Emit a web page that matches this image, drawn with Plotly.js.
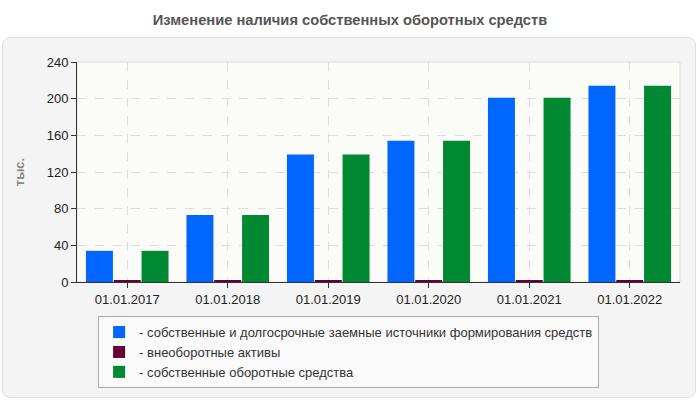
<!DOCTYPE html>
<html>
<head>
<meta charset="utf-8">
<script src="https://cdn.plot.ly/plotly-3.0.1.min.js"></script>
<style>
    html, body { margin: 0; padding: 0; background: #ffffff; }
    #wrap { position: relative; width: 700px; height: 400px; }
    #panel {
        position: absolute; left: 2px; top: 37px; width: 692px; height: 359px;
        background: #f4f4f4; border: 1px solid #e0e0e0; border-radius: 8px;
    }
    #chart { position: absolute; left: 0; top: 0; width: 700px; height: 400px; }
</style>
</head>
<body>
<div id="wrap">
    <div id="panel"></div>
    <div id="chart"></div>
</div>
<script>
// Данные графика
const dates = ['01.01.2017', '01.01.2018', '01.01.2019', '01.01.2020', '01.01.2021', '01.01.2022'];
const sourcesValues = [34, 73, 139, 154, 201, 214];
const nonCurrentValues = [1.2, 1.2, 1.2, 1.2, 1.2, 1.2];
const workingCapitalValues = [34, 73, 139, 154, 201, 214];
const yTicks = [0, 40, 80, 120, 160, 200, 240];

const seriesNames = [
    '- собственные и долгосрочные заемные источники формирования средств',
    '- внеоборотные активы',
    '- собственные оборотные средства'
];

document.addEventListener('DOMContentLoaded', function() {
    const data = [
        {
            type: 'bar',
            x: dates,
            y: sourcesValues,
            name: seriesNames[0],
            marker: { color: '#0066ff' },
            hoverinfo: 'y'
        },
        {
            type: 'bar',
            x: dates,
            y: nonCurrentValues,
            name: seriesNames[1],
            marker: { color: '#660033' },
            hoverinfo: 'y'
        },
        {
            type: 'bar',
            x: dates,
            y: workingCapitalValues,
            name: seriesNames[2],
            marker: { color: '#008833' },
            hoverinfo: 'y'
        }
    ];

    const layout = {
        width: 700,
        height: 400,
        paper_bgcolor: 'rgba(0,0,0,0)',
        plot_bgcolor: '#fbfbf8',
        font: { family: 'Liberation Sans, Arial, sans-serif', size: 13, color: '#222' },
        margin: { l: 77, r: 20, t: 62, b: 118 },
        title: {
            text: '<b>Изменение наличия собственных оборотных средств</b>',
            font: { size: 14.7, color: '#555' },
            x: 0.5,
            xref: 'container',
            xanchor: 'center',
            yref: 'container',
            y: 0.95,
            yanchor: 'middle'
        },
        barmode: 'group',
        bargap: 0.17,
        bargroupgap: 0.03,
        xaxis: {
            type: 'category',
            showgrid: true,
            gridcolor: '#dddddd',
            griddash: 'dash',
            showline: true,
            linecolor: '#333',
            linewidth: 1,
            ticks: 'outside',
            ticklen: 5,
            tickcolor: '#333',
            tickfont: { size: 13, color: '#222' },
            zeroline: false
        },
        yaxis: {
            range: [0, 240],
            tickvals: yTicks,
            showgrid: true,
            gridcolor: '#dddddd',
            griddash: 'dash',
            showline: true,
            linecolor: '#333',
            linewidth: 1,
            ticks: 'outside',
            ticklen: 5,
            tickcolor: '#333',
            tickfont: { size: 13, color: '#222' },
            zeroline: false,
            title: {
                text: '<b>тыс.</b>',
                font: { size: 13, color: '#888' },
                standoff: 19
            }
        },
        shapes: [
            {
                type: 'rect',
                xref: 'paper', yref: 'paper',
                x0: 0, x1: 1, y0: 0, y1: 1,
                line: { color: '#dddddd', width: 1 },
                layer: 'below'
            }
        ],
        legend: {
            x: 0.035,
            y: -0.155,
            xanchor: 'left',
            yanchor: 'top',
            bgcolor: '#fafafa',
            bordercolor: '#aaaaaa',
            borderwidth: 1,
            font: { size: 13, color: '#333' },
            tracegroupgap: 0,
            itemclick: false
        },
        showlegend: true
    };

    Plotly.newPlot('chart', data, layout, { displayModeBar: false, responsive: false });
});
</script>
</body>
</html>
